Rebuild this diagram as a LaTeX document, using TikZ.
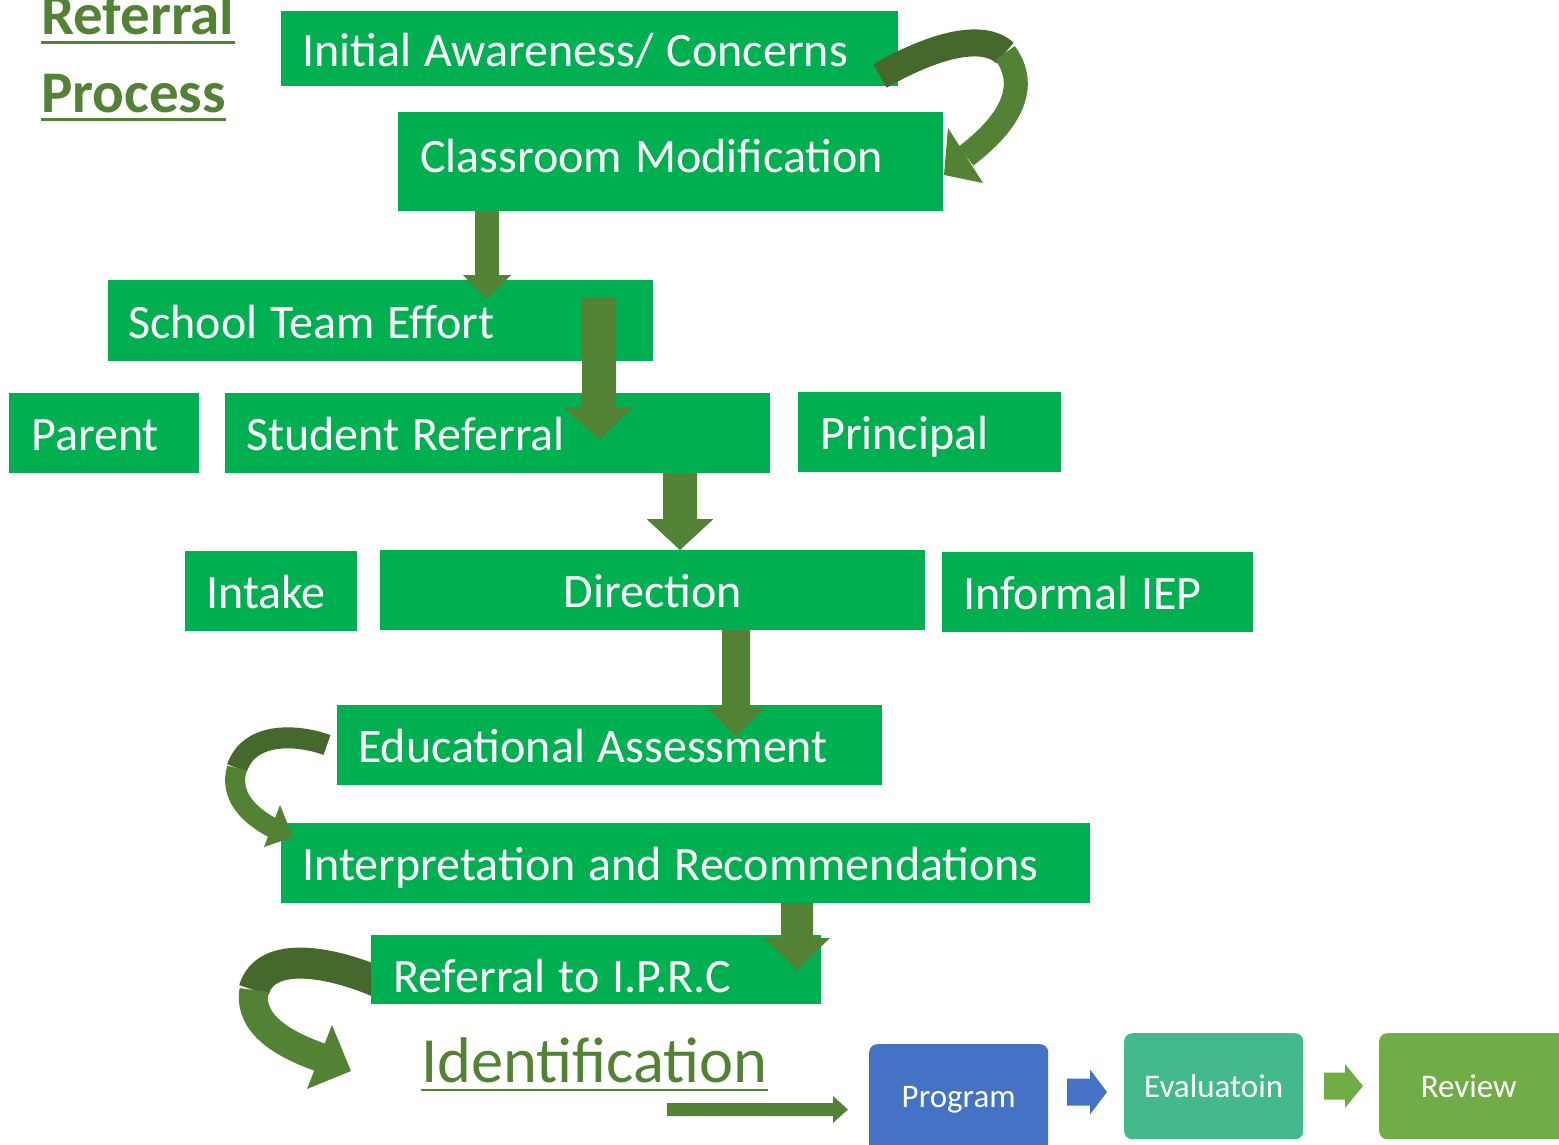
\documentclass[tikz,border=0pt]{standalone}
\usepackage{fontspec}
\setmainfont{Carlito}
\definecolor{boxgreen}{HTML}{00B050}
\definecolor{arrgreen}{HTML}{548235}
\definecolor{arrdark}{HTML}{45692C}
\definecolor{progblue}{HTML}{4472C4}
\definecolor{evalgreen}{HTML}{44BA8C}
\definecolor{revgreen}{HTML}{70AD47}
\newcommand\vblk[6]{\fill[arrgreen] ({#1-#4},#2) -- ({#1+#4},#2) -- ({#1+#4},{#3-#6}) -- ({#1+#5},{#3-#6}) -- (#1,#3) -- ({#1-#5},{#3-#6}) -- ({#1-#4},{#3-#6}) -- cycle;}
\newcommand\hblk[7]{\fill[#7] (#2,{#1-#4}) -- ({#3-#6},{#1-#4}) -- ({#3-#6},{#1-#5}) -- (#3,#1) -- ({#3-#6},{#1+#5}) -- ({#3-#6},{#1+#4}) -- (#2,{#1+#4}) -- cycle;}
\tikzset{
  box/.style={fill=boxgreen, text=white, font=\fontsize{48}{58}\selectfont, anchor=north west,
    inner xsep=21pt, inner ysep=0pt, text height=35pt, text depth=0pt, align=left,
    execute at begin node={\spaceskip=0.27em\relax}},
  titletext/.style={text=arrgreen, font=\fontsize{59}{70}\selectfont\bfseries, anchor=base west, inner sep=0pt},
  rbox/.style={rounded corners=8pt, text=white, font=\fontsize{33}{40}\selectfont, anchor=north west,
    inner sep=0pt, align=center},
  darcband/.style={draw=arrdark, line cap=butt},
  larcband/.style={draw=arrgreen, line cap=butt},
}
\begin{document}
\begin{tikzpicture}[x=1pt,y=-1pt]
\useasboundingbox (0,0) rectangle (1559,1144);
\fill[white] (0,0) rectangle (1559,1144);

% title
\node[titletext] (t1) at (41,34) {Referral};
\node[titletext] (t2) at (41,112) {Process};
\draw[arrgreen, line width=3pt] ([yshift=-8pt]t1.base west) -- ([yshift=-8pt]t1.base east);
\draw[arrgreen, line width=3pt] ([yshift=-7pt]t2.base west) -- ([yshift=-7pt]t2.base east);

% curved arrow behind Referral to I.P.R.C
\draw[darcband, line width=31pt] (385,985) .. controls (330,960) and (265,950) .. (254,990);
\draw[larcband, line width=29pt] (254,990) .. controls (248,1025) and (285,1045) .. (322,1058);
\fill[arrgreen] (332,1025) -- (351,1071) -- (307,1089) -- cycle;

% boxes
\node[box, minimum width=617pt, text width=575pt, minimum height=75pt] (init) at (281,11) {Initial Awareness/ Concerns};
\node[box, minimum width=545pt, text width=501pt, inner xsep=22pt, minimum height=99pt, text depth=14pt] (class) at (398,112) {Classroom Modification};
\node[box, minimum width=545pt, text width=505pt, inner xsep=20pt, minimum height=81pt] (team) at (108,280) {School Team Effort};
\node[box, minimum width=190pt, text width=146pt, inner xsep=22pt, minimum height=80pt] (parent) at (9,393) {Parent};
\node[box, minimum width=545pt, text width=503pt, minimum height=80pt] (student) at (225,393) {Student Referral};
\node[box, minimum width=263pt, text width=219pt, inner xsep=22pt, minimum height=80pt] (principal) at (798,392) {Principal};
\node[box, minimum width=172pt, text width=130pt, minimum height=80pt] (intake) at (185,551) {Intake};
\node[box, minimum width=545pt, text width=503pt, minimum height=80pt, align=center] (direction) at (380,550) {Direction};
\node[box, minimum width=311pt, text width=269pt, minimum height=80pt] (informal) at (942,552) {Informal IEP};
\node[box, minimum width=545pt, text width=503pt, minimum height=80pt] (edu) at (337,705) {Educational Assessment};
\node[box, minimum width=809pt, text width=767pt, minimum height=80pt] (interp) at (281,823) {Interpretation and Recommendations};
\node[box, minimum width=450pt, text width=406pt, inner xsep=22pt, minimum height=69pt, text height=45pt] (iprc) at (371,935) {Referral to I.P.R.C};

% identification
\node[text=arrgreen, font=\fontsize{64.5}{76}\selectfont, anchor=base west, inner sep=0pt] (ident) at (421,1082) {Identification};
\draw[arrgreen, line width=2.5pt] ([yshift=-8pt]ident.base west) -- ([yshift=-8pt]ident.base east);

% bottom boxes
\node[rbox, fill=progblue, minimum width=179pt, minimum height=112pt] (program) at (869,1044) {Program};
\node[rbox, fill=evalgreen, minimum width=179pt, minimum height=106pt] (eval) at (1124,1033) {Evaluatoin};
\node[rbox, fill=revgreen, minimum width=195pt, minimum height=106pt] (review) at (1379,1033) {\hspace*{-16pt}Review};

% curved arrow top right
\draw[darcband, line width=27pt] (880,76) .. controls (925,50) and (980,30) .. (1005,53);
\draw[larcband, line width=24pt] (1005,53) .. controls (1025,80) and (1020,115) .. (966,156);
\fill[arrgreen] (948,128) -- (944,175) -- (983,183) -- cycle;

% curved arrow Educational -> Interpretation
\draw[darcband, line width=21pt] (327,745) .. controls (300,735) and (250,730) .. (237,768);
\draw[larcband, line width=20pt] (237,768) .. controls (229,795) and (248,815) .. (273,828);
\fill[arrgreen] (280,805) -- (293,837) -- (264,847) -- cycle;

% straight block arrows
\vblk{487}{211}{299}{12}{24}{24}
\vblk{599}{297}{440}{17}{35}{33}
\vblk{680}{473}{550}{17}{33.5}{31}
\vblk{736}{630}{737}{14}{28}{29}
\vblk{797}{903}{970}{16}{33}{32}
\hblk{1109.5}{667}{848}{6.5}{13.5}{15}{arrgreen}
\hblk{1092}{1067}{1107}{13.5}{22.5}{17}{progblue}
\hblk{1086}{1324}{1363}{13.5}{22}{18}{revgreen}
\end{tikzpicture}
\end{document}
